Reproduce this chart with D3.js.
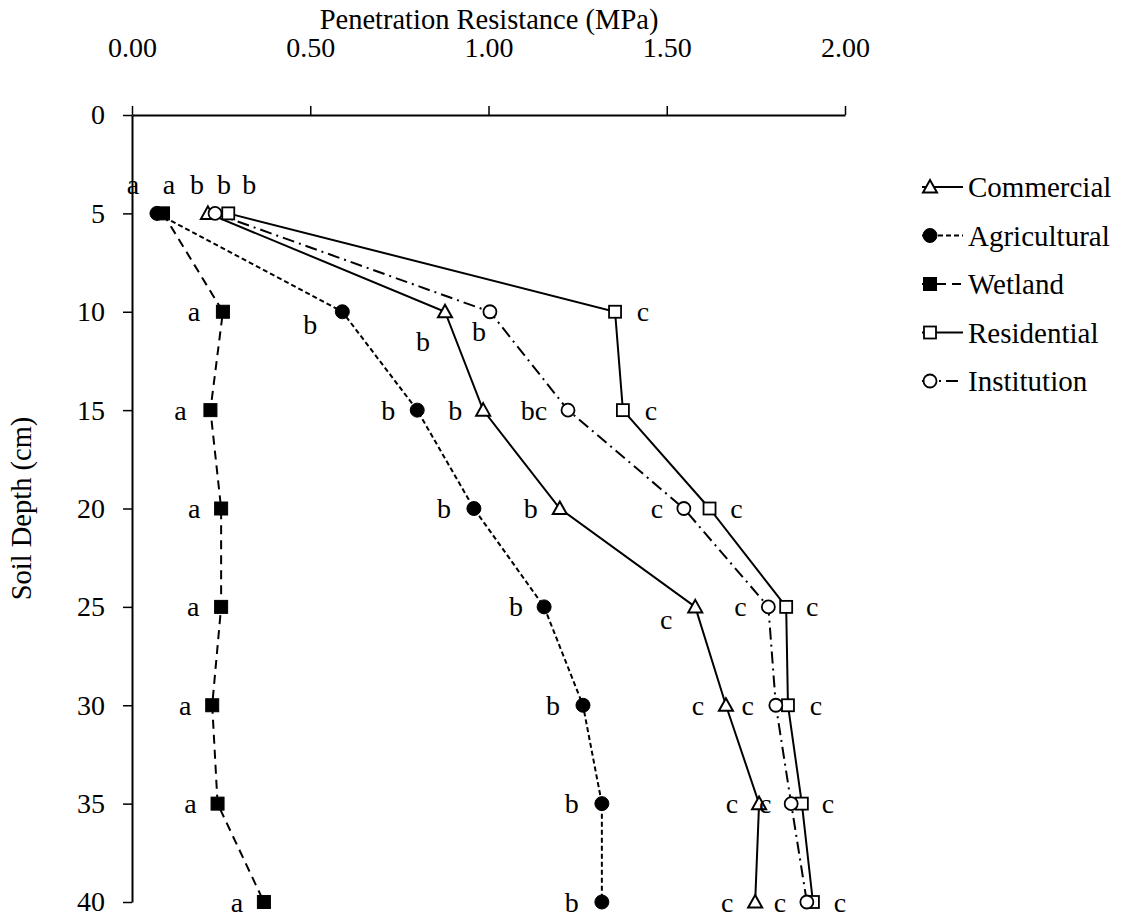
<!DOCTYPE html>
<html>
<head>
<meta charset="utf-8">
<script src="https://cdn.jsdelivr.net/npm/d3@7"></script>
<style>
  body { margin: 0; background: #fff; }
  svg { display: block; font-family: 'Liberation Serif', 'Times New Roman', serif; }
  text { fill: #000; }
</style>
</head>
<body>
<svg width="1129" height="917"></svg>
<script>
// depth of each reading (cm)
const depths = [5, 10, 15, 20, 25, 30, 35, 40]
const depthTicks = [0, 5, 10, 15, 20, 25, 30, 35, 40]
const resistanceTicks = [0, 0.5, 1, 1.5, 2]

// penetration resistance (MPa) per land use
const commercial   = [0.213, 0.878, 0.985, 1.20, 1.58, 1.666, 1.759, 1.748]
const agricultural = [0.07, 0.59, 0.80, 0.959, 1.156, 1.265, 1.318, 1.318]
const wetland      = [0.087, 0.255, 0.22, 0.25, 0.25, 0.225, 0.24, 0.37]
const residential  = [0.27, 1.355, 1.377, 1.62, 1.835, 1.84, 1.879, 1.91]
const institution  = [0.233, 1.004, 1.223, 1.548, 1.785, 1.806, 1.849, 1.893]

// significance letters
const commercialLetters   = ['b', 'b', 'b', 'b', 'c', 'c', 'c', 'c']
const agriculturalLetters = ['a', 'b', 'b', 'b', 'b', 'b', 'b', 'b']
const wetlandLetters      = ['a', 'a', 'a', 'a', 'a', 'a', 'a', 'a']
const residentialLetters  = ['b', 'c', 'c', 'c', 'c', 'c', 'c', 'c']
const institutionLetters  = ['b', 'b', 'bc', 'c', 'c', 'c', 'c', 'c']

const seriesNames = ['Commercial', 'Agricultural', 'Wetland', 'Residential', 'Institution']

// where each letter sits relative to its marker (px)
const labelOffsets = {
  Commercial:   { dx: [-11, -22, -28, -29, -29, -28, -27, -28], dy: [-29, 30, 0, 0, 13, 0, 0, 0] },
  Agricultural: { dx: [-24, -32, -29, -30, -28, -30, -30, -30], dy: [-29, 13, 0, 0, 0, 0, 0, 0] },
  Wetland:      { dx: [6, -29, -30, -27, -28, -27, -27, -27],   dy: [-29, 0, 0, 0, 0, 0, 0, 0] },
  Residential:  { dx: [21, 28, 28, 27, 26, 28, 26, 27],         dy: [-29, 0, 0, 0, 0, 0, 0, 0] },
  Institution:  { dx: [9, -11, -34, -27, -28, -28, -26, -27],   dy: [-29, 20, 0, 0, 0, 0, 0, 0] }
}

const styles = {
  Commercial:   { dash: null,         marker: 'triangle', filled: false },
  Agricultural: { dash: '5,3',        marker: 'circle',   filled: true },
  Wetland:      { dash: '9,6',        marker: 'square',   filled: true },
  Residential:  { dash: null,         marker: 'square',   filled: false },
  Institution:  { dash: '12,5,2,5',   marker: 'circle',   filled: false }
}

const series = seriesNames.map((name, k) => ({
  name: name,
  values: [commercial, agricultural, wetland, residential, institution][k],
  letters: [commercialLetters, agriculturalLetters, wetlandLetters, residentialLetters, institutionLetters][k]
}))

const svg = d3.select('svg')

const x = d3.scaleLinear().domain([0, 2]).range([132, 845])
const y = d3.scaleLinear().domain([0, 40]).range([115, 902])

// top axis
const xAxis = d3.axisTop(x)
  .tickValues(resistanceTicks)
  .tickFormat(d3.format('.2f'))
  .tickSize(9)
  .tickSizeOuter(0)
  .tickPadding(49)

svg.append('g')
  .attr('transform', `translate(0, ${y(0)})`)
  .call(xAxis)

const yAxis = d3.axisLeft(y)
  .tickValues(depthTicks)
  .tickSize(9)
  .tickSizeOuter(0)
  .tickPadding(18)

svg.append('g')
  .attr('transform', `translate(${x(0)}, 0)`)
  .call(yAxis)

// style both axes like the Excel original
svg.selectAll('.domain').attr('stroke', '#000').attr('stroke-width', 2)
svg.selectAll('.tick line').attr('stroke', '#000').attr('stroke-width', 1.5)
svg.selectAll('.tick text')
  .attr('font-family', "'Liberation Serif', serif")
  .attr('font-size', 28)
  .attr('fill', '#000')

// axis titles
svg.append('text')
  .attr('x', 489)
  .attr('y', 29)
  .attr('text-anchor', 'middle')
  .attr('font-size', 28.5)
  .text('Penetration Resistance (MPa)')

svg.append('text')
  .attr('transform', `translate(31, ${y(20)}) rotate(-90)`)
  .attr('text-anchor', 'middle')
  .attr('font-size', 28.5)
  .text('Soil Depth (cm)')

// markers
const drawMarker = function (sel, kind, filled) {
  const fill = filled ? '#000' : '#fff'
  if (kind === 'circle') {
    sel.append('circle')
      .attr('r', filled ? 7 : 6.5)
      .attr('fill', fill)
      .attr('stroke', '#000')
      .attr('stroke-width', filled ? 1 : 1.8)
  } else if (kind === 'square') {
    const s = filled ? 13 : 12
    sel.append('rect')
      .attr('x', -s / 2)
      .attr('y', -s / 2)
      .attr('width', s)
      .attr('height', s)
      .attr('fill', fill)
      .attr('stroke', '#000')
      .attr('stroke-width', filled ? 1 : 1.8)
  } else {
    sel.append('path')
      .attr('d', 'M0,-7 L7,5.5 L-7,5.5 Z')
      .attr('fill', fill)
      .attr('stroke', '#000')
      .attr('stroke-width', 2)
  }
}

const line = d3.line()
  .x(d => x(d.v))
  .y(d => y(d.depth))

const plot = svg.append('g')

series.forEach(s => {
  const pts = s.values.map((v, i) => ({ v: v, depth: depths[i] }))
  plot.append('path')
    .attr('d', line(pts))
    .attr('fill', 'none')
    .attr('stroke', '#000')
    .attr('stroke-width', 2)
    .attr('stroke-dasharray', styles[s.name].dash)
})

series.forEach(s => {
  const st = styles[s.name]
  const off = labelOffsets[s.name]
  s.values.forEach((v, i) => {
    const g = plot.append('g')
      .attr('transform', `translate(${x(v)}, ${y(depths[i])})`)
    drawMarker(g, st.marker, st.filled)
    plot.append('text')
      .attr('x', x(v) + off.dx[i])
      .attr('y', y(depths[i]) + off.dy[i])
      .attr('text-anchor', 'middle')
      .attr('dominant-baseline', 'central')
      .attr('font-size', 28)
      .text(s.letters[i])
  })
})

// legend
const legend = svg.append('g')
series.forEach((s, i) => {
  const ly = 187 + i * 48.5
  const st = styles[s.name]
  legend.append('line')
    .attr('x1', 922).attr('x2', 963)
    .attr('y1', ly).attr('y2', ly)
    .attr('stroke', '#000')
    .attr('stroke-width', 2)
    .attr('stroke-dasharray', st.dash)
  const g = legend.append('g').attr('transform', `translate(930, ${ly})`)
  drawMarker(g, st.marker, st.filled)
  legend.append('text')
    .attr('x', 968)
    .attr('y', ly)
    .attr('dominant-baseline', 'central')
    .attr('font-size', 29)
    .text(s.name)
})
</script>
</body>
</html>
